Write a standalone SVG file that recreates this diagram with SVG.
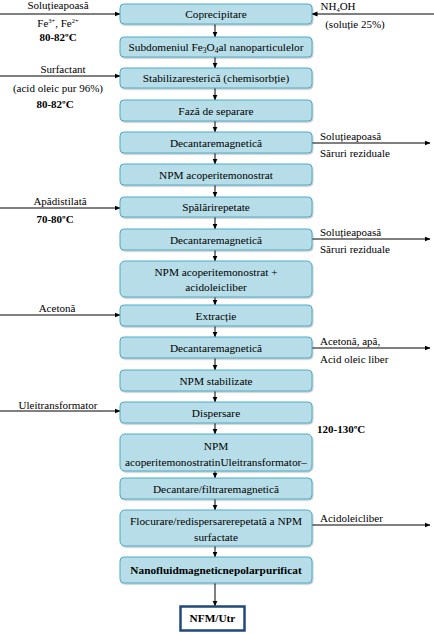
<svg xmlns="http://www.w3.org/2000/svg" width="434" height="634" viewBox="0 0 434 634">
<style>
.box rect{fill:#b7dee8;stroke:#4bacc6;stroke-width:1}
.t{font-family:"Liberation Serif","Times New Roman",serif;font-size:11.3px;fill:#000}
.c{text-anchor:middle}
.b{font-weight:bold}
.s{font-size:11px}
.ln{stroke:#000;stroke-width:1;fill:none;marker-end:url(#ah)}
</style>
<defs>
<marker id="ah" markerWidth="6" markerHeight="6" refX="5.5" refY="3" orient="auto" markerUnits="userSpaceOnUse">
<path d="M0,0.5 L6,3 L0,5.5 Z" fill="#000"/>
</marker>
<filter id="sh" x="-5%" y="-20%" width="110%" height="150%">
<feDropShadow dx="0.8" dy="1.2" stdDeviation="0.6" flood-color="#000" flood-opacity="0.25"/>
</filter>
</defs>
<rect width="434" height="634" fill="#fff"/>

<g id="connectors">
<line class="ln" x1="215" y1="24" x2="215" y2="37"/>
<line class="ln" x1="215" y1="57" x2="215" y2="68"/>
<line class="ln" x1="215" y1="88" x2="215" y2="100"/>
<line class="ln" x1="215" y1="121" x2="215" y2="132"/>
<line class="ln" x1="215" y1="153" x2="215" y2="164"/>
<line class="ln" x1="215" y1="185" x2="215" y2="197"/>
<line class="ln" x1="215" y1="217" x2="215" y2="229"/>
<line class="ln" x1="215" y1="250" x2="215" y2="261"/>
<line class="ln" x1="215" y1="297" x2="215" y2="305"/>
<line class="ln" x1="215" y1="326" x2="215" y2="337"/>
<line class="ln" x1="215" y1="358" x2="215" y2="370"/>
<line class="ln" x1="215" y1="391" x2="215" y2="402"/>
<line class="ln" x1="215" y1="423" x2="215" y2="434"/>
<line class="ln" x1="215" y1="467" x2="215" y2="478"/>
<line class="ln" x1="215" y1="499" x2="215" y2="510"/>
<line class="ln" x1="215" y1="546" x2="215" y2="557"/>
<line class="ln" x1="215" y1="583" x2="215" y2="606"/>
<line class="ln" x1="0" y1="14" x2="120" y2="14"/>
<line class="ln" x1="0" y1="76" x2="120" y2="76"/>
<line class="ln" x1="0" y1="208" x2="120" y2="208"/>
<line class="ln" x1="0" y1="315" x2="120" y2="315"/>
<line class="ln" x1="0" y1="411" x2="120" y2="411"/>
<line class="ln" x1="434" y1="14" x2="312" y2="14"/>
<line class="ln" x1="312" y1="143" x2="430" y2="143"/>
<line class="ln" x1="312" y1="239" x2="430" y2="239"/>
<line class="ln" x1="312" y1="348" x2="430" y2="348"/>
<line class="ln" x1="312" y1="525" x2="430" y2="525"/>
</g>

<g id="n1" class="box"><rect x="120" y="4" width="192" height="20" rx="4" filter="url(#sh)"/><text class="t c" x="216" y="18">Coprecipitare</text></g>
<g id="n2" class="box"><rect x="120" y="37" width="192" height="20" rx="4" filter="url(#sh)"/><text class="t c" x="216" y="51">Subdomeniul Fe<tspan font-size="7.5" dy="2">3</tspan><tspan dy="-2">O</tspan><tspan font-size="7.5" dy="2">4</tspan><tspan dy="-2">al nanoparticulelor</tspan></text></g>
<g id="n3" class="box"><rect x="120" y="68" width="192" height="20" rx="4" filter="url(#sh)"/><text class="t c" x="216" y="82">Stabilizaresterică (chemisorbție)</text></g>
<g id="n4" class="box"><rect x="120" y="100" width="192" height="21" rx="4" filter="url(#sh)"/><text class="t c" x="216" y="114.5">Fază de separare</text></g>
<g id="n5" class="box"><rect x="120" y="132" width="192" height="21" rx="4" filter="url(#sh)"/><text class="t c" x="216" y="146.5">Decantaremagnetică</text></g>
<g id="n6" class="box"><rect x="120" y="164" width="192" height="21" rx="4" filter="url(#sh)"/><text class="t c" x="216" y="178.5">NPM acoperitemonostrat</text></g>
<g id="n7" class="box"><rect x="120" y="197" width="192" height="20" rx="4" filter="url(#sh)"/><text class="t c" x="216" y="211">Spălărirepetate</text></g>
<g id="n8" class="box"><rect x="120" y="229" width="192" height="21" rx="4" filter="url(#sh)"/><text class="t c" x="216" y="243.5">Decantaremagnetică</text></g>
<g id="n9" class="box"><rect x="120" y="261" width="192" height="36" rx="5" filter="url(#sh)"/><text class="t c" x="216" y="276">NPM acoperitemonostrat +</text><text class="t c" x="216" y="291">acidoleicliber</text></g>
<g id="n10" class="box"><rect x="120" y="305" width="192" height="21" rx="4" filter="url(#sh)"/><text class="t c" x="216" y="319.5">Extracție</text></g>
<g id="n11" class="box"><rect x="120" y="337" width="192" height="21" rx="4" filter="url(#sh)"/><text class="t c" x="216" y="351.5">Decantaremagnetică</text></g>
<g id="n12" class="box"><rect x="120" y="370" width="192" height="21" rx="4" filter="url(#sh)"/><text class="t c" x="216" y="384.5">NPM stabilizate</text></g>
<g id="n13" class="box"><rect x="120" y="402" width="192" height="21" rx="4" filter="url(#sh)"/><text class="t c" x="216" y="416.5">Dispersare</text></g>
<g id="n14" class="box"><rect x="120" y="434" width="192" height="37" rx="5" filter="url(#sh)"/><text class="t c" x="216" y="450">NPM</text><text class="t c" x="216" y="466">acoperitemonostratinUleitransformator–</text></g>
<g id="n15" class="box"><rect x="120" y="478" width="192" height="21" rx="4" filter="url(#sh)"/><text class="t c" x="216" y="492.5">Decantare/filtraremagnetică</text></g>
<g id="n16" class="box"><rect x="120" y="510" width="192" height="36" rx="5" filter="url(#sh)"/><text class="t c" x="216" y="525">Flocurare/redispersarerepetată a NPM</text><text class="t c" x="216" y="541">surfactate</text></g>
<g id="n17" class="box"><rect x="120" y="557" width="192" height="26" rx="4" filter="url(#sh)"/><text class="t c b" x="216" y="574">Nanofluidmagneticnepolarpurificat</text></g>
<g id="n18"><rect x="180.5" y="606.5" width="64" height="24" fill="#fff" stroke="#1f497d" stroke-width="2.5"/><text class="t c b" x="212.5" y="622">NFM/Utr</text></g>

<g id="labels">
<text class="t c s" x="58" y="9">Soluțieapoasă</text>
<text class="t c s" x="58" y="27">Fe<tspan font-size="6.5" dy="-4">3+</tspan><tspan dy="4">, Fe</tspan><tspan font-size="6.5" dy="-4">2+</tspan></text>
<text class="t c s b" x="58" y="41">80-82ºC</text>
<text class="t c s" x="338" y="10">NH<tspan font-size="6.5" dy="2">4</tspan><tspan dy="-2">OH</tspan></text>
<text class="t c s" x="355" y="28">(soluție 25%)</text>
<text class="t c s" x="63" y="73">Surfactant</text>
<text class="t c s" x="58" y="92">(acid oleic pur 96%)</text>
<text class="t c s b" x="55" y="108">80-82ºC</text>
<text class="t s" x="320" y="140">Soluțieapoasă</text>
<text class="t s" x="320" y="157">Săruri reziduale</text>
<text class="t c s" x="60" y="205">Apădistilată</text>
<text class="t c s b" x="55" y="223">70-80ºC</text>
<text class="t s" x="320" y="236">Soluțieapoasă</text>
<text class="t s" x="320" y="253">Săruri reziduale</text>
<text class="t c s" x="57" y="312">Acetonă</text>
<text class="t s" x="320" y="345">Acetonă, apă,</text>
<text class="t s" x="320" y="363">Acid oleic liber</text>
<text class="t c s" x="58" y="409">Uleitransformator</text>
<text class="t s b" x="317" y="433">120-130ºC</text>
<text class="t s" x="320" y="522">Acidoleicliber</text>
</g>
</svg>
